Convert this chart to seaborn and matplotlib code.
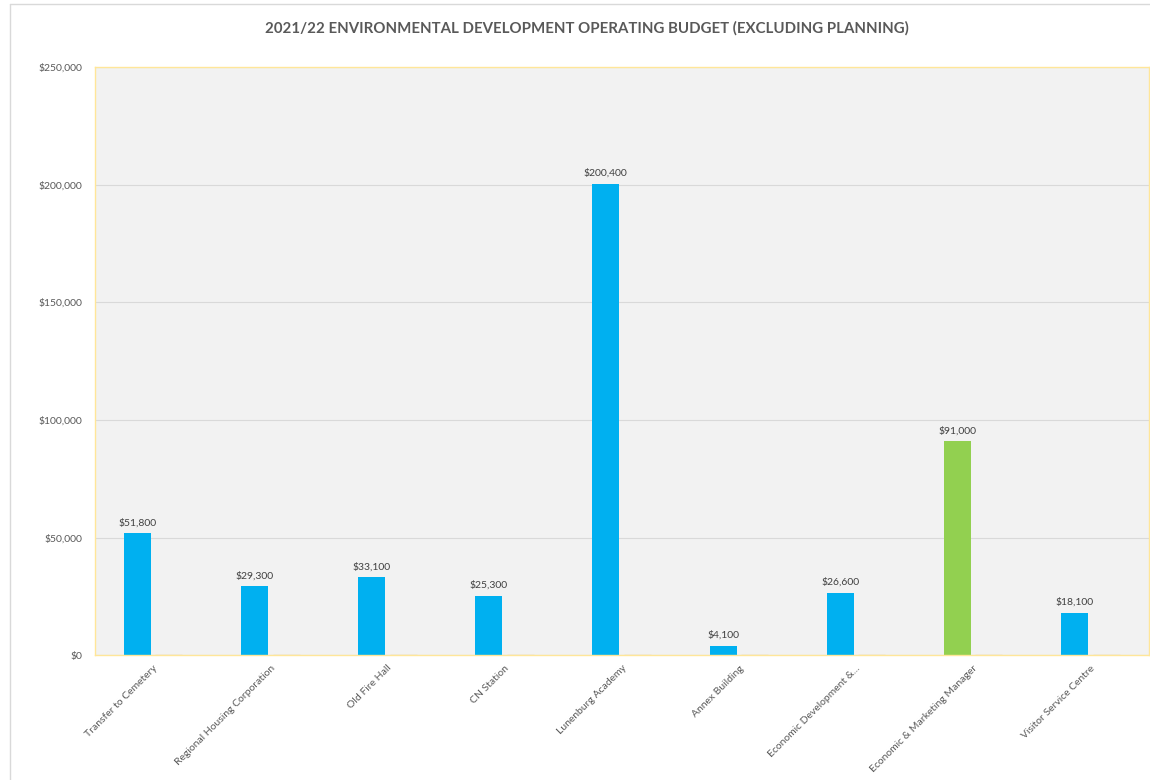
import pandas as pd
import matplotlib.pyplot as plt
import matplotlib.ticker as mticker
import seaborn as sns

# Budget data
categories = ["Transfer to Cemetery", "Regional Housing Corporation", "Old Fire Hall",
              "CN Station", "Lunenburg Academy", "Annex Building",
              "Economic Development &...", "Economic & Marketing Manager",
              "Visitor Service Centre"]
budget = [51800, 29300, 33100, 25300, 200400, 4100, 26600, 91000, 18100]
other = [0, 0, 0, 0, 0, 0, 0, 0, 0]
highlight = "Economic & Marketing Manager"

df = pd.DataFrame({
    "category": categories * 2,
    "series": ["Budget"] * len(categories) + ["Other"] * len(categories),
    "value": budget + other,
})

sns.set_theme(style="white")
plt.rcParams['font.family'] = ['Lato', 'DejaVu Sans']

fig = plt.figure(figsize=(11.5, 7.8), dpi=100)
ax = fig.add_axes([0.0822, 0.160, 0.9168, 0.754])

sns.barplot(data=df, x="category", y="value", hue="series", order=categories,
            palette={"Budget": "#00B0F0", "Other": "#F2F2F2"}, width=0.54, gap=0.145,
            ax=ax, legend=False, errorbar=None, saturation=1)

blue_bars = ax.containers[0]
for cat, patch in zip(categories, blue_bars):
    patch.set_edgecolor("none")
    if cat == highlight:
        patch.set_facecolor("#92D050")
for patch in ax.containers[1]:
    patch.set_edgecolor("#E6D3A8")
    patch.set_linewidth(1.0)

# data labels
for val, patch in zip(budget, blue_bars):
    ax.text(patch.get_x() + patch.get_width() / 2, val + 2500, f"${val:,.0f}",
            ha="center", va="bottom", fontsize=7.5, color="#404040")

ax.set_facecolor("#F2F2F2")
ax.set_ylim(0, 250000)
ax.set_xlim(-0.5, len(categories) - 0.5)
ax.yaxis.set_major_locator(mticker.MultipleLocator(50000))
ax.yaxis.set_major_formatter(mticker.FuncFormatter(lambda v, p: f"${v:,.0f}"))
ax.grid(axis="y", color="#D9D9D9", linewidth=0.8)
ax.set_axisbelow(True)
for s in ax.spines.values():
    s.set_color("#FFE699")
    s.set_linewidth(1.0)

ax.set_xlabel("")
ax.set_ylabel("")
ax.tick_params(axis="both", length=0, labelsize=7.5, labelcolor="#595959", pad=6)
ax.tick_params(axis="y", pad=9)
plt.setp(ax.get_xticklabels(), rotation=45, ha="right", rotation_mode="anchor")

fig.suptitle("2021/22 ENVIRONMENTAL DEVELOPMENT OPERATING BUDGET (EXCLUDING PLANNING)",
             x=0.51, y=0.973, fontsize=10.8, fontweight="bold", color="#595959")

# chart frame
fig.add_artist(plt.Line2D([10 / 1150, 10 / 1150], [0, 1 - 4 / 780], color="#D9D9D9", lw=1))
fig.add_artist(plt.Line2D([10 / 1150, 1], [1 - 4 / 780, 1 - 4 / 780], color="#D9D9D9", lw=1))

fig.savefig("out.png", dpi=100)
